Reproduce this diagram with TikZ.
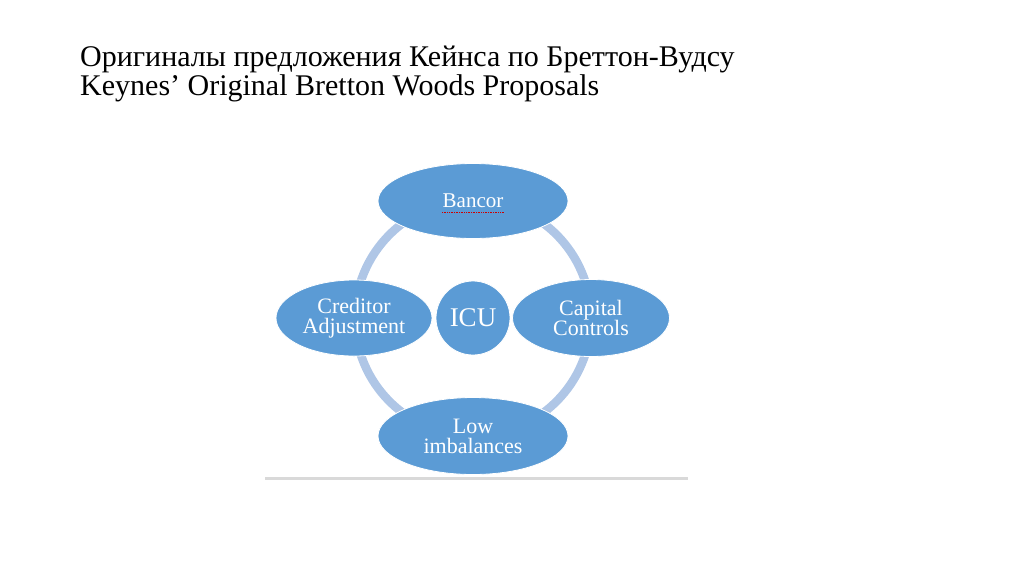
\documentclass[tikz,border=0pt]{standalone}
\usepackage{fontspec}
\setmainfont{Liberation Serif}
\usetikzlibrary{shapes.geometric}
\definecolor{bub}{HTML}{5B9BD5}
\definecolor{ringc}{HTML}{AFC6E6}
\definecolor{rulec}{HTML}{D9D9D9}
\tikzset{
  bubble/.style={ellipse, fill=bub, draw=white, line width=0.8pt, inner sep=0pt,
     text=white, align=center, font=\fontsize{22}{20}\selectfont},
  titletext/.style={anchor=base west, inner sep=0pt, font=\fontsize{30}{30}\selectfont}
}
\begin{document}
\begin{tikzpicture}[x=1pt,y=-1pt]
\useasboundingbox (0,0) rectangle (1024,574);
\node[titletext] (t1) at (80,66.5) {Оригиналы предложения Кейнса по Бреттон-Вудсу};
\node[titletext] (t2) at (80,95) {Keynes’ Original Bretton Woods Proposals};
\coordinate (c) at (473,318);
\draw[ringc, line width=8.5pt] (c) circle[radius=118];
\draw[rulec, line width=3pt] (265,478) -- (688,478);
\node[bubble, minimum width=190pt, minimum height=75pt, font=\fontsize{21}{20}\selectfont] (bancor) at (473,201) {Bancor};
\node[bubble, minimum width=156pt, minimum height=76pt] (cred) at (354,318) {Creditor\\Adjustment};
\node[bubble, minimum width=157pt, minimum height=77pt] (cap) at (591,318) {Capital\\Controls};
\node[bubble, circle, minimum size=74pt, font=\fontsize{27}{28}\selectfont] (icu) at (c) {ICU};
\node[bubble, minimum width=190pt, minimum height=77pt] (low) at (473,436) {Low\\imbalances};
\draw[red!80!black, densely dotted, line width=0.7pt] ([xshift=-31pt,yshift=-11pt]bancor.center) -- ([xshift=31pt,yshift=-11pt]bancor.center);
\end{tikzpicture}
\end{document}
